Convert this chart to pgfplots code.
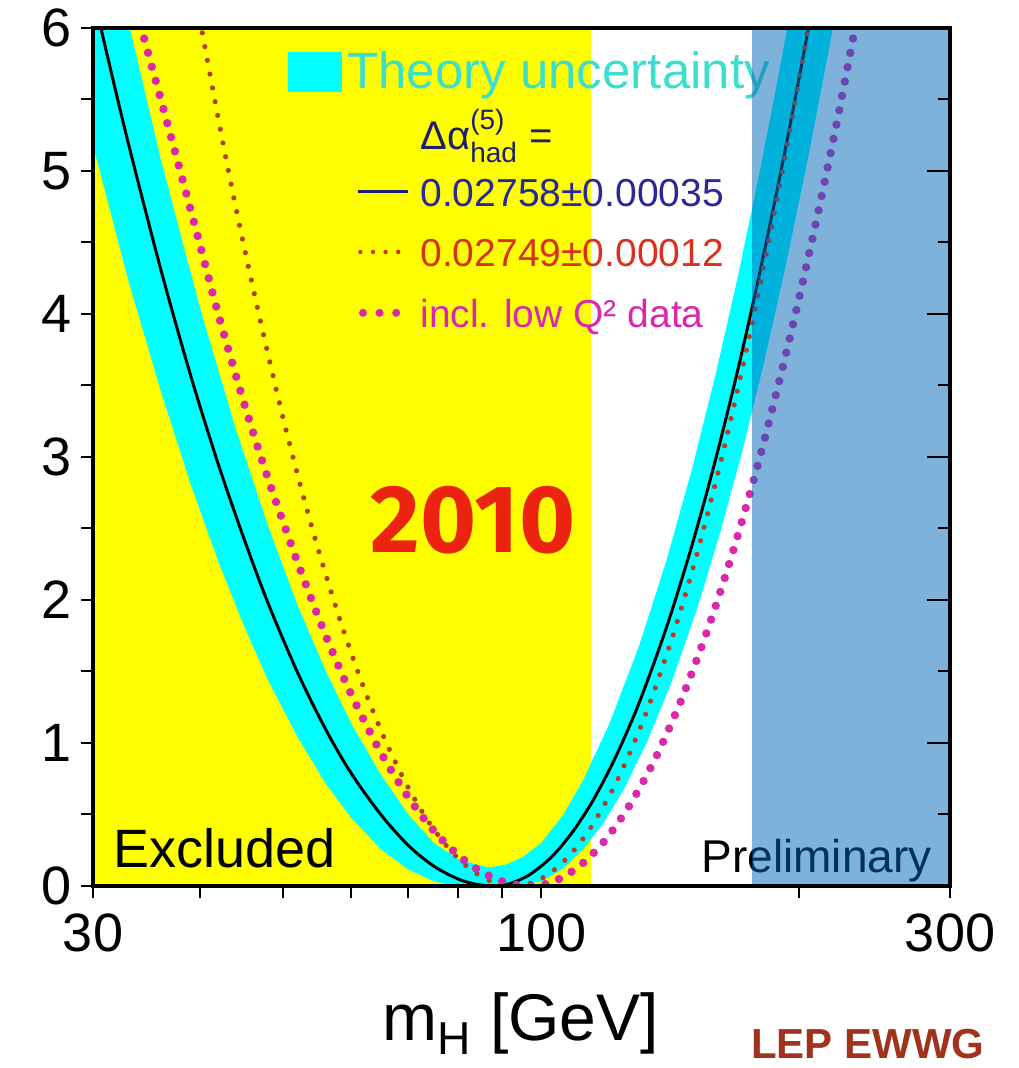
\documentclass[border=0pt]{standalone}
\usepackage{fontspec}
\setmainfont{Liberation Sans}
\newfontfamily\yearfont{Fira Sans}
\usepackage{amsmath}
\usepackage{pgfplots}
\pgfplotsset{compat=1.18}
\definecolor{cyanband}{RGB}{0,255,255}
\definecolor{yel}{RGB}{255,255,0}
\definecolor{tevblue}{rgb}{0,0.4,0.72}
\definecolor{reddot}{RGB}{180,65,35}
\definecolor{magdot}{RGB}{218,40,170}
\definecolor{theorytxt}{RGB}{60,222,205}
\definecolor{navytxt}{RGB}{30,30,110}
\definecolor{bluetxt}{RGB}{40,40,150}
\definecolor{redtxt}{RGB}{215,50,30}
\definecolor{magtxt}{RGB}{215,40,175}
\definecolor{yearred}{RGB}{235,35,15}
\definecolor{lepbrown}{RGB}{160,50,30}
\begin{document}
\begin{tikzpicture}
\begin{axis}[name=main, scale only axis, width=428.5pt, height=429pt,
  xmode=log, xmin=30, xmax=300, ymin=0, ymax=6,
  xtick={30,100,300}, xticklabels={30,100,300},
  minor xtick={40,50,60,70,80,90,200},
  ytick={0,1,2,3,4,5,6}, yticklabels={0,1,2,3,4,5,6},
  minor ytick={0.5,1.5,2.5,3.5,4.5,5.5},
  xtick pos=left, ytick pos=left, tick align=outside,
  major tick length=6pt, minor tick length=6pt,
  every tick/.style={black, line width=1pt},
  axis line style={draw=none},
  ticklabel style={font=\fontsize{27}{27}\selectfont},
  xticklabel style={yshift=-4.5pt},
  yticklabel style={xshift=-1pt},
  xlabel={$\text{m}_{\text{H}}$ [GeV]},
  xlabel style={font=\fontsize{33}{33}\selectfont, at={(axis description cs:0.499,-0.1795)}, anchor=base, inner sep=0pt},
  ]
% excluded region
\addplot[fill=yel, draw=none] coordinates {(30,0) (114.4,0) (114.4,6) (30,6)} -- cycle;
% theory band
\addplot[fill=cyanband, draw=none] coordinates {
 (30,5.18) (33,4.23) (36,3.46) (39,2.81) (42,2.27) (45,1.82) (48,1.44) (52,1.04) (56,0.72) (60,0.478) (65,0.258) (70,0.115) (75,0.033) (79,0.004) (81.2,0) (94,0) (100,0.032) (106,0.121) (112,0.257) (118,0.434) (125,0.681) (133,1.011) (142,1.427) (152,1.936) (162,2.484) (172,3.06) (182,3.66) (193,4.34) (205,5.10) (217,5.87) (225,6.39)
 (200,6.45) (195,6.09) (190,5.725) (180,5.0) (170,4.285) (160,3.59) (150,2.917) (140,2.274) (130,1.673) (120,1.128) (112,0.743) (106,0.494) (100,0.3) (95,0.2) (91,0.15) (87,0.13) (84,0.15) (80,0.19) (75,0.30) (70,0.50) (65,0.78) (60,1.14) (56,1.51) (52,1.96) (48,2.52) (44,3.20) (40,4.04) (36,5.08) (33,6.04) (30,7.17)
} -- cycle;
% central curve
\addplot[black, line width=1.5pt, smooth, tension=0.5] coordinates {
 (30,6.25) (31,5.87) (33,5.19) (36,4.31) (39,3.57) (42,2.95) (45,2.43) (48,1.98) (52,1.49) (56,1.10) (60,0.79) (65,0.50) (70,0.283) (75,0.138) (80,0.049) (84,0.012) (88,0) (92,0.017) (97,0.08) (103,0.207) (109,0.384) (115,0.60) (122,0.895) (130,1.275) (140,1.806) (150,2.384) (160,2.995) (170,3.633) (180,4.293) (190,4.967) (200,5.649) (207,6.134) (212,6.48)
};
% 0.02749 curve
\addplot[reddot, line width=2.6pt, line cap=round, dash pattern=on 0pt off 7pt, smooth, tension=0.5] coordinates {
 (37,7.22) (38,6.81) (40,6.05) (43,5.05) (46,4.21) (50,3.27) (54,2.51) (58,1.895) (62,1.397) (66,1.0) (70,0.686) (74,0.444) (78,0.263) (82,0.135) (86,0.052) (90,0.0092) (93,0) (97,0.017) (102,0.082) (108,0.215) (115,0.434) (123,0.752) (132,1.18) (142,1.724) (152,2.321) (163,3.03) (175,3.845) (188,4.768) (200,5.64) (206,6.09) (212,6.53)
};
% incl. low Q2 curve
\addplot[magdot, line width=4.2pt, line cap=round, dash pattern=on 0pt off 7.3pt, smooth, tension=0.5] coordinates {
 (32,6.72) (33,6.35) (34.3,5.96) (36,5.5) (38,4.98) (40,4.48) (42,4.0) (45,3.38) (48,2.85) (52,2.26) (56,1.757) (60,1.343) (65,0.933) (70,0.62) (75,0.385) (80,0.216) (85,0.102) (90,0.033) (94,0.006) (97,0) (101,0.0127) (106,0.0617) (112,0.162) (119,0.327) (127,0.57) (136,0.896) (146,1.313) (157,1.82) (168,2.368) (180,3.0) (193,3.716) (207,4.51) (221,5.32) (235,6.15) (240,6.44)
};
% legend
\fill[cyanband] (rel axis cs:0.2275,0.9254) rectangle (rel axis cs:0.2905,0.972);
\node[anchor=base west, text=theorytxt, font=\fontsize{25.5}{25.5}\selectfont, inner sep=0pt] at (rel axis cs:0.2964,0.930) {Theory uncertainty};
\node[anchor=base west, text=navytxt, font=\fontsize{20}{20}\selectfont, inner sep=0pt] at (rel axis cs:0.3816,0.8578) {$\text{Δα}^{\text{(5)}}_{\text{had}}\text{ =}$};
\draw[navytxt, line width=1.5pt] (rel axis cs:0.309,0.8089) -- (rel axis cs:0.3676,0.8089);
\node[anchor=base west, text=bluetxt, font=\fontsize{19.5}{20}\selectfont, inner sep=0pt] at (rel axis cs:0.3816,0.7925) {0.02758±0.00035};
\draw[redtxt, line width=2.2pt, line cap=round, dash pattern=on 0pt off 6.3pt] (rel axis cs:0.312,0.739) -- (rel axis cs:0.368,0.739);
\node[anchor=base west, text=redtxt, font=\fontsize{19.5}{20}\selectfont, inner sep=0pt] at (rel axis cs:0.3816,0.7226) {0.02749±0.00012};
\draw[magdot, line width=4pt, line cap=round, dash pattern=on 0pt off 8.3pt] (rel axis cs:0.315,0.668) -- (rel axis cs:0.368,0.668);
\node[anchor=base west, text=magtxt, font=\fontsize{19.5}{20}\selectfont, inner sep=0pt] at (rel axis cs:0.3816,0.6515) {incl. low Q² data};
% annotations
\node[text=yearred, font=\yearfont\bfseries\fontsize{48}{48}\selectfont, inner sep=0pt] at (rel axis cs:0.4434,0.4266) {2010};
\node[anchor=base west, font=\fontsize{27}{27}\selectfont, inner sep=0pt] at (rel axis cs:0.0233,0.021) {Excluded};
\node[anchor=base east, font=\fontsize{23}{23}\selectfont, inner sep=0pt] at (rel axis cs:0.979,0.0163) {Preliminary};
% Tevatron region (translucent)
\addplot[fill=tevblue, fill opacity=0.5, draw=none] coordinates {(176,0) (300,0) (300,6) (176,6)} -- cycle;
\end{axis}
\begin{axis}[at={(main.south west)}, anchor=south west, scale only axis, width=428.5pt, height=429pt,
  xmode=log, xmin=30, xmax=300, ymin=0, ymax=6,
  xtick=\empty, minor xtick={},
  ytick={0,1,2,3,4,5,6}, yticklabels={}, minor ytick={0.5,1.5,2.5,3.5,4.5,5.5},
  ytick pos=right, tick align=inside,
  major tick length=11.5pt, minor tick length=6pt,
  every tick/.style={black, line width=1pt},
  axis line style={black, line width=2pt}]
\end{axis}
\node[anchor=base east, text=lepbrown, font=\bfseries\fontsize{21}{21}\selectfont, inner sep=0pt] at ([xshift=17.5pt,yshift=-86pt]main.south east) {LEP EWWG};
\pgfresetboundingbox
\path[use as bounding box] ([xshift=-46.5pt,yshift=-91pt]main.south west) rectangle ([xshift=34pt,yshift=14pt]main.north east);
\end{tikzpicture}
\end{document}
